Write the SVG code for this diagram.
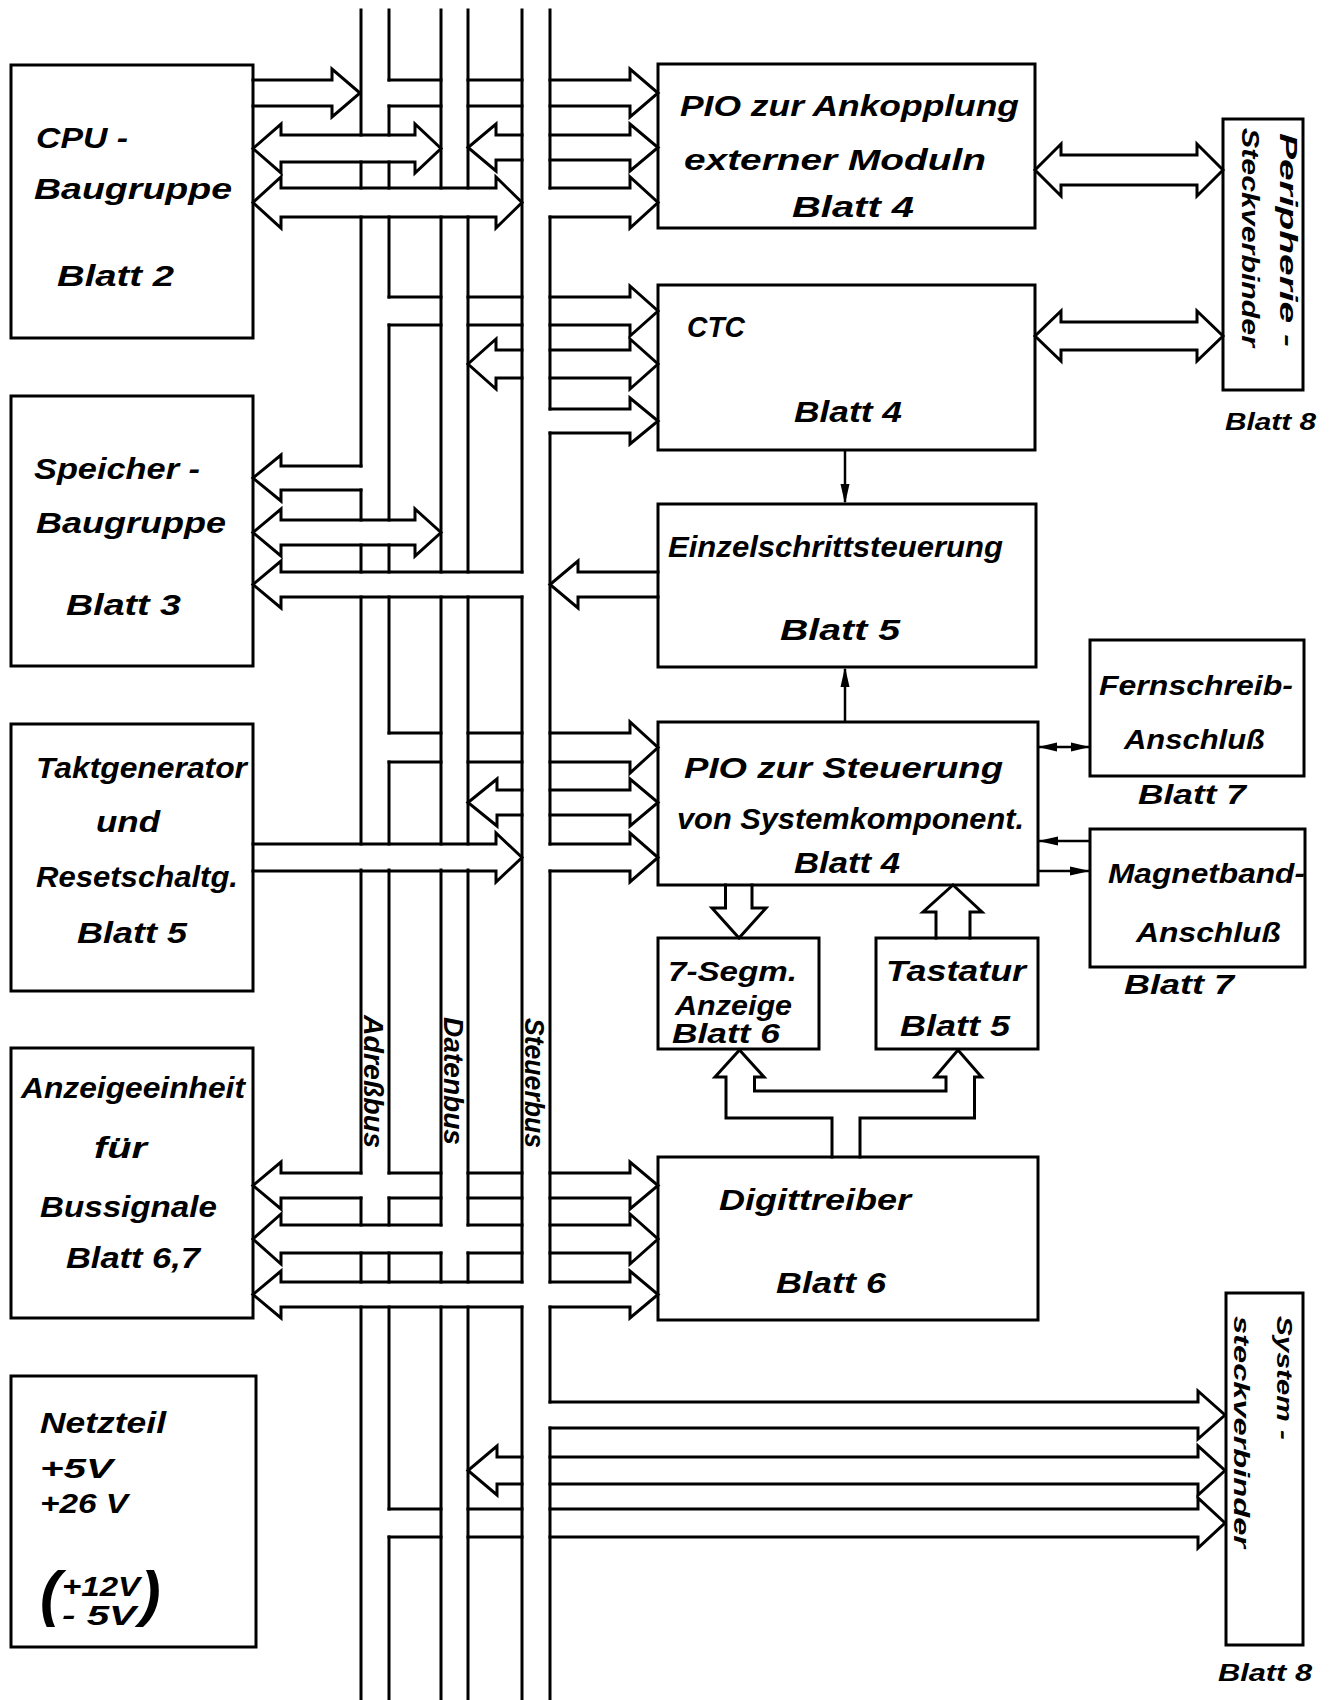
<svg xmlns="http://www.w3.org/2000/svg" width="1334" height="1700" viewBox="0 0 1334 1700">
<style>
.box{fill:none;stroke:#000;stroke-width:3}
.ln{fill:none;stroke:#000;stroke-width:3;stroke-linejoin:miter;stroke-linecap:square}
.thin{fill:none;stroke:#000;stroke-width:2.5}
.ah{fill:#000;stroke:none}
.t{font-family:"Liberation Sans",Arial,sans-serif;font-style:italic;font-weight:bold;font-size:30px;fill:#000}
.m{font-size:28px}
.s{font-size:24px}
.xs{font-size:22px}
</style>
<rect width="1334" height="1700" fill="#fff"/>

<g id="buses">
  <g id="adressbus">
    <path class="ln" d="M361 10V135M361 162V188M361 217V466M361 490V520M361 545V572M361 597V844M361 870V1173M361 1198V1225M361 1253V1282M361 1307V1700"/>
    <path class="ln" d="M389 10V80M389 106V135M389 162V188M389 217V297M389 325V520M389 545V572M389 597V733M389 762V844M389 870V1173M389 1198V1225M389 1253V1282M389 1307V1509M389 1537V1700"/>
    <text class="t m" transform="translate(364,1015) rotate(90)" textLength="133" lengthAdjust="spacingAndGlyphs">Adreßbus</text>
  </g>
  <g id="datenbus">
    <path class="ln" d="M441 10V188M441 217V572M441 597V844M441 870V1225M441 1253V1282M441 1307V1700"/>
    <path class="ln" d="M468 10V188M468 217V572M468 597V844M468 870V1225M468 1253V1282M468 1307V1700"/>
    <text class="t m" transform="translate(444,1017) rotate(90)" textLength="128" lengthAdjust="spacingAndGlyphs">Datenbus</text>
  </g>
  <g id="steuerbus">
    <path class="ln" d="M522 10V572M522 597V1282M522 1307V1700"/>
    <path class="ln" d="M550 10V188M550 217V409M550 433V844M550 871V1282M550 1307V1402M550 1428V1700"/>
    <text class="t m" transform="translate(525,1018) rotate(90)" textLength="130" lengthAdjust="spacingAndGlyphs">Steuerbus</text>
  </g>
</g>

<g id="connectors">
  <!-- CPU -->
  <path class="ln" d="M253 80H332V69L360 93L332 117V106H253"/>
  <path class="ln" d="M281 135H415V124L441 148.5L415 173V162H281V173L253 148.5L281 124Z"/>
  <path class="ln" d="M281 188H496V177L522 202.5L496 228V217H281V228L253 202.5L281 177Z"/>
  <!-- PIO 1 -->
  <path class="ln" d="M389 80H441M468 80H522M550 80H630V69L658 93L630 117V106H550M522 106H468M441 106H389"/>
  <path class="ln" d="M522 135H496V124L468 147.5L496 171V160H522M550 135H630V124L658 147.5L630 171V160H550"/>
  <path class="ln" d="M550 188H630V177L658 202.5L630 228V217H550"/>
  <!-- CTC -->
  <path class="ln" d="M389 297H441M468 297H522M550 297H630V286L658 311L630 336V325H550M522 325H468M441 325H389"/>
  <path class="ln" d="M522 350H496V339L468 364L496 389V378H522M550 350H630V339L658 364L630 389V378H550"/>
  <path class="ln" d="M550 409H630V398L658 421L630 444V433H550"/>
  <!-- Speicher -->
  <path class="ln" d="M361 466H281V455L253 478L281 501V490H361"/>
  <path class="ln" d="M281 520H415V509L441 532.5L415 556V545H281V556L253 532.5L281 509Z"/>
  <path class="ln" d="M522 572H281V561L253 584.5L281 608V597H522"/>
  <!-- Einzelschritt to bus -->
  <path class="ln" d="M658 572H578V561L550 584.5L578 608V597H658"/>
  <!-- PIO 2 -->
  <path class="ln" d="M389 733H441M468 733H522M550 733H630V722L658 747.5L630 773V762H550M522 762H468M441 762H389"/>
  <path class="ln" d="M522 790H497V779L468 802.5L497 826V815H522M550 790H630V779L658 802.5L630 826V815H550"/>
  <path class="ln" d="M550 844H630V833L658 857.5L630 882V871H550"/>
  <!-- Takt -->
  <path class="ln" d="M253 844H496V833L522 857.5L496 882V871H253"/>
  <!-- Anzeige / Digittreiber -->
  <path class="ln" d="M361 1173H281V1162L253 1185.5L281 1209V1198H361M389 1173H441M468 1173H522M550 1173H630V1162L658 1185.5L630 1209V1198H550M522 1198H468M441 1198H389"/>
  <path class="ln" d="M441 1225H281V1214L253 1239L281 1264V1253H441M468 1225H522M550 1225H630V1214L658 1239L630 1264V1253H550M522 1253H468"/>
  <path class="ln" d="M522 1282H281V1271L253 1294.5L281 1318V1307H522M550 1282H630V1271L658 1294.5L630 1318V1307H550"/>
  <!-- System-Steckverbinder -->
  <path class="ln" d="M550 1402H1198V1391L1225 1415L1198 1439V1428H550"/>
  <path class="ln" d="M522 1457H497V1446L468 1470.5L497 1495V1484H522M550 1457H1198V1446L1225 1470.5L1198 1495V1484H550"/>
  <path class="ln" d="M389 1509H441M468 1509H522M550 1509H1198V1498L1225 1523L1198 1548V1537H550M522 1537H468M441 1537H389"/>
  <!-- Peripherie -->
  <path class="ln" d="M1061 155H1197V144L1223 170L1197 196V185H1061V196L1035 170L1061 144Z"/>
  <path class="ln" d="M1061 322H1197V311L1223 336L1197 361V350H1061V361L1035 336L1061 311Z"/>
  <!-- small signal lines -->
  <path class="thin" d="M845 450V502"/>
  <polygon class="ah" points="840.5,484 849.5,484 845,504"/>
  <path class="thin" d="M845 722V669"/>
  <polygon class="ah" points="840.5,687 849.5,687 845,667"/>
  <path class="thin" d="M1038 747H1090"/>
  <polygon class="ah" points="1057,742.5 1057,751.5 1038,747"/>
  <polygon class="ah" points="1071,742.5 1071,751.5 1090,747"/>
  <path class="thin" d="M1038 841H1090"/>
  <polygon class="ah" points="1058,836.5 1058,845.5 1038,841"/>
  <path class="thin" d="M1038 871H1090"/>
  <polygon class="ah" points="1070,866.5 1070,875.5 1090,871"/>
  <!-- PIO2 / 7-Segm / Tastatur -->
  <path class="ln" d="M725.5 885V908H712L739 938L766 908H752V885"/>
  <path class="ln" d="M936 938V912H923L953 885L982 912H970V938"/>
  <!-- Digittreiber fork -->
  <path class="ln" d="M832 1157V1118H726V1077H715L739.5 1050L764 1077H754.5V1091H946V1077H935L958 1050L981.5 1077H974.5V1118H860V1157"/>
</g>

<g id="cpu">
  <rect class="box" x="11" y="65" width="242" height="273"/>
  <text class="t" x="36" y="148" textLength="92" lengthAdjust="spacingAndGlyphs">CPU -</text>
  <text class="t" x="34" y="199" textLength="198" lengthAdjust="spacingAndGlyphs">Baugruppe</text>
  <text class="t" x="57" y="286" textLength="117" lengthAdjust="spacingAndGlyphs">Blatt 2</text>
</g>
<g id="speicher">
  <rect class="box" x="11" y="396" width="242" height="270"/>
  <text class="t" x="34" y="479" textLength="166" lengthAdjust="spacingAndGlyphs">Speicher -</text>
  <text class="t" x="36" y="533" textLength="190" lengthAdjust="spacingAndGlyphs">Baugruppe</text>
  <text class="t" x="66" y="615" textLength="115" lengthAdjust="spacingAndGlyphs">Blatt 3</text>
</g>
<g id="takt">
  <rect class="box" x="11" y="724" width="242" height="267"/>
  <text class="t" x="36" y="778" textLength="211" lengthAdjust="spacingAndGlyphs">Taktgenerator</text>
  <text class="t" x="96" y="832" textLength="64" lengthAdjust="spacingAndGlyphs">und</text>
  <text class="t" x="36" y="887" textLength="202" lengthAdjust="spacingAndGlyphs">Resetschaltg.</text>
  <text class="t" x="77" y="943" textLength="110" lengthAdjust="spacingAndGlyphs">Blatt 5</text>
</g>
<g id="anzeigeeinheit">
  <rect class="box" x="11" y="1048" width="242" height="270"/>
  <text class="t" x="21" y="1098" textLength="224" lengthAdjust="spacingAndGlyphs">Anzeigeeinheit</text>
  <text class="t" x="94" y="1158" textLength="53" lengthAdjust="spacingAndGlyphs">für</text>
  <text class="t" x="40" y="1217" textLength="177" lengthAdjust="spacingAndGlyphs">Bussignale</text>
  <text class="t" x="66" y="1268" textLength="134" lengthAdjust="spacingAndGlyphs">Blatt 6,7</text>
</g>
<g id="netzteil">
  <rect class="box" x="11" y="1376" width="245" height="271"/>
  <text class="t" x="40" y="1433" textLength="126" lengthAdjust="spacingAndGlyphs">Netzteil</text>
  <text class="t m" x="40" y="1478" textLength="73" lengthAdjust="spacingAndGlyphs">+5V</text>
  <text class="t m" x="40" y="1513" textLength="88" lengthAdjust="spacingAndGlyphs">+26 V</text>
  <text class="t" x="40" y="1614" style="font-size:62px">(</text>
  <text class="t m" x="62" y="1596" textLength="78" lengthAdjust="spacingAndGlyphs">+12V</text>
  <text class="t m" x="62" y="1625" textLength="74" lengthAdjust="spacingAndGlyphs">- 5V</text>
  <text class="t" x="140" y="1614" style="font-size:62px">)</text>
</g>
<g id="pio1">
  <rect class="box" x="658" y="64" width="377" height="164"/>
  <text class="t" x="680" y="116" textLength="339" lengthAdjust="spacingAndGlyphs">PIO zur Ankopplung</text>
  <text class="t" x="684" y="170" textLength="302" lengthAdjust="spacingAndGlyphs">externer  Moduln</text>
  <text class="t" x="792" y="217" textLength="122" lengthAdjust="spacingAndGlyphs">Blatt 4</text>
</g>
<g id="ctc">
  <rect class="box" x="658" y="285" width="377" height="165"/>
  <text class="t" x="687" y="337" textLength="58" lengthAdjust="spacingAndGlyphs">CTC</text>
  <text class="t" x="794" y="422" textLength="108" lengthAdjust="spacingAndGlyphs">Blatt 4</text>
</g>
<g id="peripherie">
  <rect class="box" x="1223" y="119" width="80" height="271"/>
  <text class="t s" transform="translate(1280,133) rotate(90)" textLength="214" lengthAdjust="spacingAndGlyphs">Peripherie -</text>
  <text class="t s" transform="translate(1242,128) rotate(90)" textLength="219" lengthAdjust="spacingAndGlyphs">Steckverbinder</text>
  <text class="t s" x="1225" y="430" textLength="91" lengthAdjust="spacingAndGlyphs">Blatt 8</text>
</g>
<g id="einzelschritt">
  <rect class="box" x="658" y="504" width="378" height="163"/>
  <text class="t" x="668" y="557" textLength="335" lengthAdjust="spacingAndGlyphs">Einzelschrittsteuerung</text>
  <text class="t" x="780" y="640" textLength="120" lengthAdjust="spacingAndGlyphs">Blatt 5</text>
</g>
<g id="pio2">
  <rect class="box" x="658" y="722" width="380" height="163"/>
  <text class="t" x="684" y="778" textLength="319" lengthAdjust="spacingAndGlyphs">PIO  zur  Steuerung</text>
  <text class="t" x="677" y="829" textLength="347" lengthAdjust="spacingAndGlyphs">von Systemkomponent.</text>
  <text class="t" x="794" y="873" textLength="106" lengthAdjust="spacingAndGlyphs">Blatt 4</text>
</g>
<g id="fernschreib">
  <rect class="box" x="1090" y="640" width="214" height="136"/>
  <text class="t m" x="1099" y="695" textLength="194" lengthAdjust="spacingAndGlyphs">Fernschreib-</text>
  <text class="t m" x="1124" y="749" textLength="141" lengthAdjust="spacingAndGlyphs">Anschluß</text>
  <text class="t m" x="1138" y="804" textLength="108" lengthAdjust="spacingAndGlyphs">Blatt 7</text>
</g>
<g id="magnetband">
  <rect class="box" x="1090" y="829" width="215" height="138"/>
  <text class="t m" x="1108" y="883" textLength="197" lengthAdjust="spacingAndGlyphs">Magnetband-</text>
  <text class="t m" x="1136" y="942" textLength="145" lengthAdjust="spacingAndGlyphs">Anschluß</text>
  <text class="t m" x="1124" y="994" textLength="110" lengthAdjust="spacingAndGlyphs">Blatt 7</text>
</g>
<g id="segm7">
  <rect class="box" x="658" y="938" width="161" height="111"/>
  <text class="t m" x="668" y="981" textLength="129" lengthAdjust="spacingAndGlyphs">7-Segm.</text>
  <text class="t m" x="675" y="1015" textLength="117" lengthAdjust="spacingAndGlyphs">Anzeige</text>
  <text class="t m" x="672" y="1043" textLength="108" lengthAdjust="spacingAndGlyphs">Blatt  6</text>
</g>
<g id="tastatur">
  <rect class="box" x="876" y="938" width="162" height="111"/>
  <text class="t" x="886" y="981" textLength="140" lengthAdjust="spacingAndGlyphs">Tastatur</text>
  <text class="t" x="900" y="1036" textLength="110" lengthAdjust="spacingAndGlyphs">Blatt 5</text>
</g>
<g id="digittreiber">
  <rect class="box" x="658" y="1157" width="380" height="163"/>
  <text class="t" x="719" y="1210" textLength="192" lengthAdjust="spacingAndGlyphs">Digittreiber</text>
  <text class="t" x="776" y="1293" textLength="110" lengthAdjust="spacingAndGlyphs">Blatt 6</text>
</g>
<g id="system">
  <rect class="box" x="1226" y="1293" width="77" height="352"/>
  <text class="t xs" transform="translate(1277,1316) rotate(90)" textLength="124" lengthAdjust="spacingAndGlyphs">System -</text>
  <text class="t xs" transform="translate(1234,1316) rotate(90)" textLength="232" lengthAdjust="spacingAndGlyphs">steckverbinder</text>
  <text class="t s" x="1218" y="1681" textLength="94" lengthAdjust="spacingAndGlyphs">Blatt 8</text>
</g>
</svg>
